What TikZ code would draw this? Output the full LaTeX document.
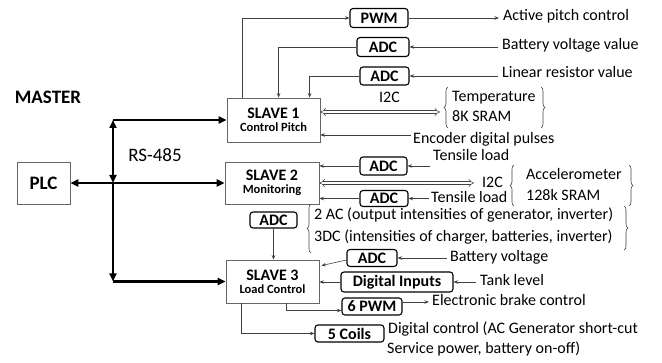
\documentclass[tikz,border=0pt]{standalone}
\usepackage{fontspec}
\setmainfont{Carlito}
\usetikzlibrary{arrows.meta,decorations.pathreplacing}
\begin{document}
\begin{tikzpicture}[x=1pt,y=-1pt,
 lbl/.style={font=\fontsize{16}{19}\selectfont, anchor=west, inner sep=0pt, text height=11.5pt, text depth=3.5pt},
 slave/.style={draw=black!60, line width=0.8pt, align=center, inner sep=0pt},
 mod/.style={draw=black, line width=1.1pt, rounded corners=3pt, font=\bfseries\fontsize{16}{19}\selectfont, inner sep=0pt},
 conn/.style={draw=black!75, line width=0.6pt, -{Stealth[length=4.5pt,width=3.5pt]}},
 bus/.style={line width=2.6pt, -{Triangle[length=8pt,width=7pt]}},
 dbl/.style={draw=black!75, double, double distance=2.4pt, line width=0.5pt, {Implies}-{Implies}},
 brc/.style={draw=black!75, line width=0.6pt, decorate, decoration={brace, amplitude=4pt}},
]
\useasboundingbox (0,0) rectangle (662,363);

% master side
\node[font=\bfseries\fontsize{19}{22}\selectfont, inner sep=0pt] (master) at (48,97) {MASTER};
\node[draw=black!60, line width=0.8pt, minimum width=53pt, minimum height=42pt, font=\bfseries\fontsize{19}{22}\selectfont, inner sep=0pt] (plc) at (43.5,183) {PLC};
\node[font=\fontsize{19}{22}\selectfont, inner sep=0pt] (rs) at (155,155) {RS-485};

% slaves
\node[slave, minimum width=93pt, minimum height=44pt] (s1) at (273.5,120)
  {\fontsize{16}{18}\selectfont\bfseries SLAVE 1\\[1pt]\fontsize{12.5}{14}\selectfont\bfseries Control Pitch};
\node[slave, minimum width=94pt, minimum height=42pt] (s2) at (272,183)
  {\fontsize{16}{18}\selectfont\bfseries SLAVE 2\\[1pt]\fontsize{12.5}{14}\selectfont\bfseries Monitoring};
\node[slave, minimum width=93pt, minimum height=43pt] (s3) at (272.5,281.5)
  {\fontsize{16}{18}\selectfont\bfseries SLAVE 3\\[1pt]\fontsize{12.5}{14}\selectfont\bfseries Load Control};

% bus
\coordinate (bt) at (113,120);
\coordinate (bb) at (113,281.5);
\draw[bus, {Triangle[length=8pt,width=7pt]}-{Triangle[length=8pt,width=7pt]}] (113,183) -- (bt);
\draw[bus] (113,183) -- (bb);
\draw[bus] (bt) -- (s1.west);
\draw[bus] (bb) -- (s3.west);
\draw[bus, {Triangle[length=8pt,width=7pt]}-{Triangle[length=8pt,width=7pt]}] (plc.east) -- (s2.west);

% slave 1 modules
\node[mod, minimum width=58pt, minimum height=19pt] (pwm) at (379,18) {PWM};
\node[mod, minimum width=52pt, minimum height=19pt] (adc1) at (383,47) {ADC};
\node[mod, minimum width=49pt, minimum height=18pt] (adc2) at (384.5,76) {ADC};
\node[lbl] (apc) at (503,17) {Active pitch control};
\node[lbl] (bvv) at (502,46) {Battery voltage value};
\node[lbl] (lrv) at (502,74) {Linear resistor value};
\draw[conn] ([xshift=16pt]s1.north west) |- (pwm.west);
\draw[conn, shorten >=4pt] (pwm.east) -- (pwm.east -| apc.west);
\draw[conn, shorten <=4pt] (adc1.east -| bvv.west) -- (adc1.east);
\draw[conn, shorten <=4pt] (adc2.east -| lrv.west) -- (adc2.east);
\draw[conn] (adc1.west) -| ([xshift=52pt]s1.north west);
\draw[conn] (adc2.west) -| ([xshift=83pt]s1.north west);

\coordinate (b1) at (440,112);
\draw[dbl] ([yshift=8pt]s1.east) -- (b1);
\node[lbl] (i2ca) at (379,99) {I2C};
\draw[brc] (448,128) -- (448,87);
\node[lbl] (temp) at (452,98) {Temperature};
\node[lbl] (sram1) at (452,118) {8K SRAM};
\draw[brc] (541,87) -- (541,128);
\node[lbl] (enc) at (413,140) {Encoder digital pulses};
\coordinate (encsrc) at (411,135);
\draw[conn] (encsrc) -- (encsrc -| s1.east);

% slave 2 modules
\node[mod, minimum width=47pt, minimum height=18pt] (adc3) at (383.5,166) {ADC};
\node[mod, minimum width=48pt, minimum height=16pt] (adc4) at (384,198.5) {ADC};
\node[mod, minimum width=47pt, minimum height=16pt] (adc5) at (273.5,220) {ADC};
\node[lbl] (tl1) at (433,157) {Tensile load};
\node[lbl] (tl2) at (431,199) {Tensile load};
\coordinate (tl1src) at (430,166);
\draw[conn] (tl1src) -- (adc3.east);
\draw[conn] (adc3.west) -- (adc3.west -| s2.east);
\draw[conn, shorten <=2pt] (adc4.east -| tl2.west) -- (adc4.east);
\draw[conn] (adc4.west) -- (adc4.west -| s2.east);
\draw[conn] (adc5.south) -- (adc5.south |- s3.north);

\coordinate (b2) at (474,183);
\draw[dbl] (s2.east) -- (b2);
\node[lbl] (i2cb) at (482,184) {I2C};
\draw[brc] (514,206) -- (514,165);
\node[lbl] (acc) at (526,176) {Accelerometer};
\node[lbl] (sram2) at (526,197) {128k SRAM};
\draw[brc] (629,165) -- (629,206);

\draw[brc] (311,253) -- (311,204);
\node[lbl] (ac) at (314,216) {2 AC (output intensities of generator, inverter)};
\node[lbl] (dc) at (314,238) {3DC (intensities of charger, batteries, inverter)};
\draw[brc] (624,206) -- (624,250);

% slave 3 modules
\node[mod, minimum width=50pt, minimum height=17pt] (adc6) at (372,258) {ADC};
\node[lbl] (bv) at (450,258) {Battery voltage};
\draw[conn, shorten <=3pt] (bv.west) -- (adc6.east);
\draw[conn] ([yshift=-2pt]adc6.west) -- ([xshift=2pt,yshift=-6pt]s3.north east);

\node[mod, minimum width=112pt, minimum height=20pt] (din) at (397,282) {Digital Inputs};
\node[lbl] (tank) at (480,282) {Tank level};
\draw[conn, shorten <=4pt] (tank.west) -- (din.east);
\draw[conn] (din.west) -- (din.west -| s3.east);

\node[mod, minimum width=60pt, minimum height=17pt] (pwm6) at (372,306.5) {6 PWM};
\node[lbl] (ebc) at (432,302) {Electronic brake control};
\draw[conn] ([xshift=61pt]s3.south west) |- ([yshift=-4pt]pwm6.west);
\draw[conn, shorten >=3pt] (pwm6.east |- ebc.west) -- (ebc.west);

\node[mod, minimum width=69pt, minimum height=17pt] (coils) at (349.5,333.5) {5 Coils};
\node[lbl] (dc1) at (388,330) {Digital control (AC Generator short-cut};
\node[lbl] (dc2) at (387,350) {Service power, battery on-off)};
\draw[conn] ([xshift=16pt]s3.south west) |- (coils.west);
\end{tikzpicture}
\end{document}
